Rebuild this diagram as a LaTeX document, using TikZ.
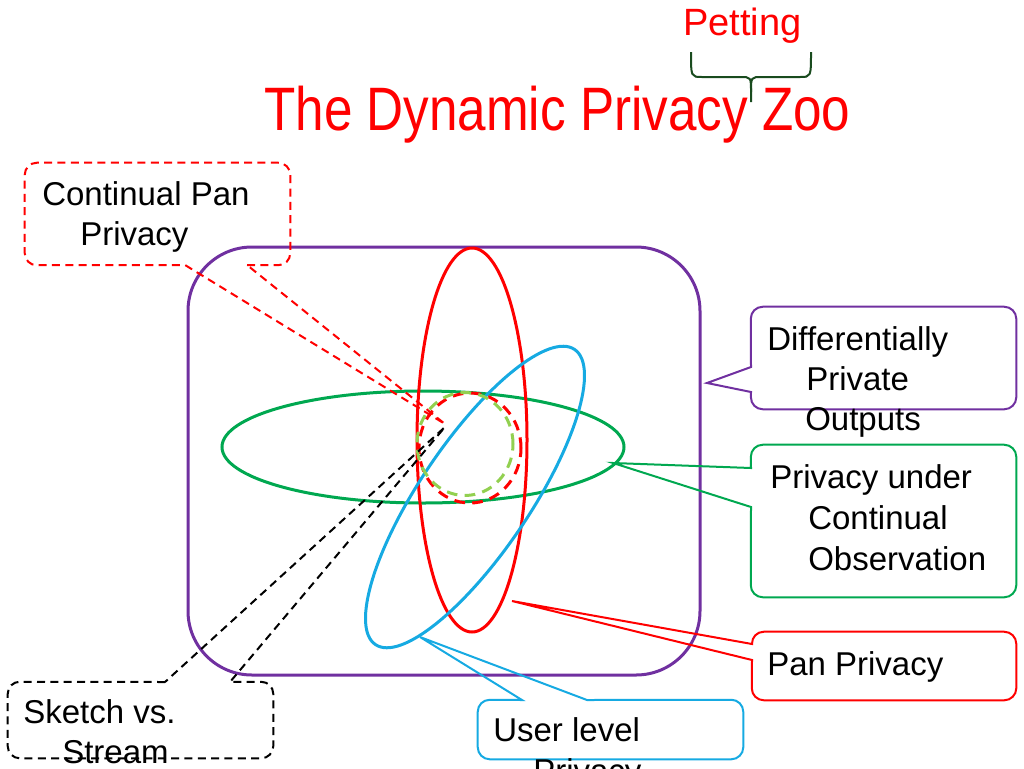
\documentclass[tikz,border=0pt]{standalone}
\usepackage{fontspec}
\setmainfont{Liberation Sans}
\usepackage{graphicx}
\definecolor{zred}{RGB}{255,0,0}
\definecolor{zpurple}{RGB}{112,48,160}
\definecolor{zgreen}{RGB}{0,168,80}
\definecolor{zblue}{RGB}{22,170,226}
\definecolor{zlgreen}{RGB}{146,208,80}
\definecolor{zbrace}{RGB}{25,75,30}
\tikzset{
  txt/.style={anchor=base west, inner sep=0pt, font=\fontsize{24.75}{30}\selectfont},
  boxarea/.style={draw=none, inner sep=0pt},
  calloutline/.style={line width=1.5pt, rounded corners=9pt},
  redash/.style={dash pattern=on 6pt off 4pt},
  ring/.style={line width=2.25pt},
  ringdash/.style={line width=2.25pt, dash pattern=on 8pt off 5.5pt}
}
\begin{document}
\begin{tikzpicture}[x=0.75pt, y=-0.75pt]
\useasboundingbox (0,0) rectangle (1024,768);

% title
\node[anchor=base west, text=zred, inner sep=0pt, font=\fontsize{46}{50}\selectfont] (title) at (264,130) {\scalebox{0.835}[1]{The Dynamic Privacy Zoo}};
\node[anchor=base west, text=zred, inner sep=0pt, font=\fontsize{28.5}{32}\selectfont] (pet) at (683,35) {Petting};
\draw[zbrace, line width=1.5pt] (691,52) .. controls (691,77) .. (702,77) -- (740,77) .. controls (751,77) .. (751,92) -- (751,102);
\draw[zbrace, line width=1.5pt] (811,52) .. controls (811,77) .. (800,77) -- (762,77) .. controls (751,77) .. (751,92);

% big purple box
\node[draw=zpurple, line width=2.25pt, rounded corners=48pt, minimum width=384pt, minimum height=321pt, inner sep=0pt] (dp) at (444,461) {};

% ellipses
\coordinate (gc) at (423,447);
\coordinate (rc) at (472,440);
\coordinate (bc) at (475,497);
\coordinate (rdc) at (470,448);
\coordinate (lgc) at (465,444);
\draw[zgreen, ring] (gc) ellipse [x radius=150.75pt, y radius=42pt];
\draw[zred, ring] (rc) ellipse [x radius=41.25pt, y radius=144pt];
\draw[zblue, ring, rotate around={56:(bc)}] (bc) ellipse [x radius=133.5pt, y radius=41.25pt];
\draw[zred, ringdash] (rdc) ellipse [x radius=38.25pt, y radius=41.25pt];
\draw[zlgreen, ringdash] (lgc) ellipse [x radius=36pt, y radius=38.6pt];

% Continual Pan Privacy
\node[boxarea, minimum width=198.75pt, minimum height=76.5pt] (cpbox) at (157.5,214) {};
\coordinate (cptip) at (445,424);
\coordinate (cpb1) at (185,265);
\coordinate (cpb2) at (247,265);
\draw[zred, calloutline, redash] (cpb2) -- (cpbox.south east) -- (cpbox.north east) -- (cpbox.north west) -- (cpbox.south west) [sharp corners] -- (cpb1) -- (cptip) -- cycle;
\node[txt] (cp1) at (42,205) {Continual Pan};
\node[txt] (cp2) at (80,245) {Privacy};

% Sketch vs. Stream
\node[boxarea, minimum width=198.75pt, minimum height=57pt] (skbox) at (140.5,720) {};
\coordinate (sktip) at (445,427);
\coordinate (skb1) at (165,682);
\coordinate (skb2) at (230,682);
\draw[black, calloutline, redash] (skb1) -- (skbox.north west) -- (skbox.south west) -- (skbox.south east) -- (skbox.north east) [sharp corners] -- (skb2) -- (sktip) -- cycle;
\node[txt] (sk1) at (23,723) {Sketch vs.};
\node[txt] (sk2) at (62,763) {Stream};

% Differentially Private Outputs
\node[boxarea, minimum width=198.75pt, minimum height=76.5pt] (dpbox) at (883.5,358) {};
\coordinate (dptip) at (707,383);
\coordinate (dpb1) at (751,367);
\coordinate (dpb2) at (751,392);
\draw[zpurple, calloutline] (dpb1) -- (dpbox.north west) -- (dpbox.north east) -- (dpbox.south east) -- (dpbox.south west) [sharp corners] -- (dpb2) -- (dptip) -- cycle;
\node[txt] (dp1) at (767,350) {Differentially};
\node[txt] (dp2) at (806,390) {Private};
\node[txt] (dp3) at (805,430) {Outputs};

% Privacy under Continual Observation
\node[boxarea, minimum width=198.75pt, minimum height=114pt] (pcbox) at (883.5,521) {};
\coordinate (pctip) at (613,463);
\coordinate (pcb1) at (751,468);
\coordinate (pcb2) at (751,507);
\draw[zgreen, calloutline] (pcb1) -- (pcbox.north west) -- (pcbox.north east) -- (pcbox.south east) -- (pcbox.south west) [sharp corners] -- (pcb2) -- (pctip) -- cycle;
\node[txt] (pc1) at (770,488) {Privacy under};
\node[txt] (pc2) at (808,529) {Continual};
\node[txt] (pc3) at (808,570) {Observation};

% Pan Privacy
\node[boxarea, minimum width=198pt, minimum height=51pt] (ppbox) at (884,666) {};
\coordinate (pptip) at (512,601);
\coordinate (ppb1) at (752,644);
\coordinate (ppb2) at (752,660);
\draw[zred, calloutline] (ppb1) -- (ppbox.north west) -- (ppbox.north east) -- (ppbox.south east) -- (ppbox.south west) [sharp corners] -- (ppb2) -- (pptip) -- cycle;
\node[txt] (pp1) at (767,675) {Pan Privacy};

% User level Privacy
\node[boxarea, minimum width=198.75pt, minimum height=44.25pt] (ulbox) at (610.5,729.5) {};
\coordinate (ultip) at (420,637);
\coordinate (ulb1) at (522,700);
\coordinate (ulb2) at (587,700);
\draw[zblue, calloutline] (ulb1) -- (ulbox.north west) -- (ulbox.south west) -- (ulbox.south east) -- (ulbox.north east) [sharp corners] -- (ulb2) -- (ultip) -- cycle;
\node[txt] (ul1) at (493,741) {User level};
\node[txt] (ul2) at (533,782) {Privacy};
\end{tikzpicture}
\end{document}
